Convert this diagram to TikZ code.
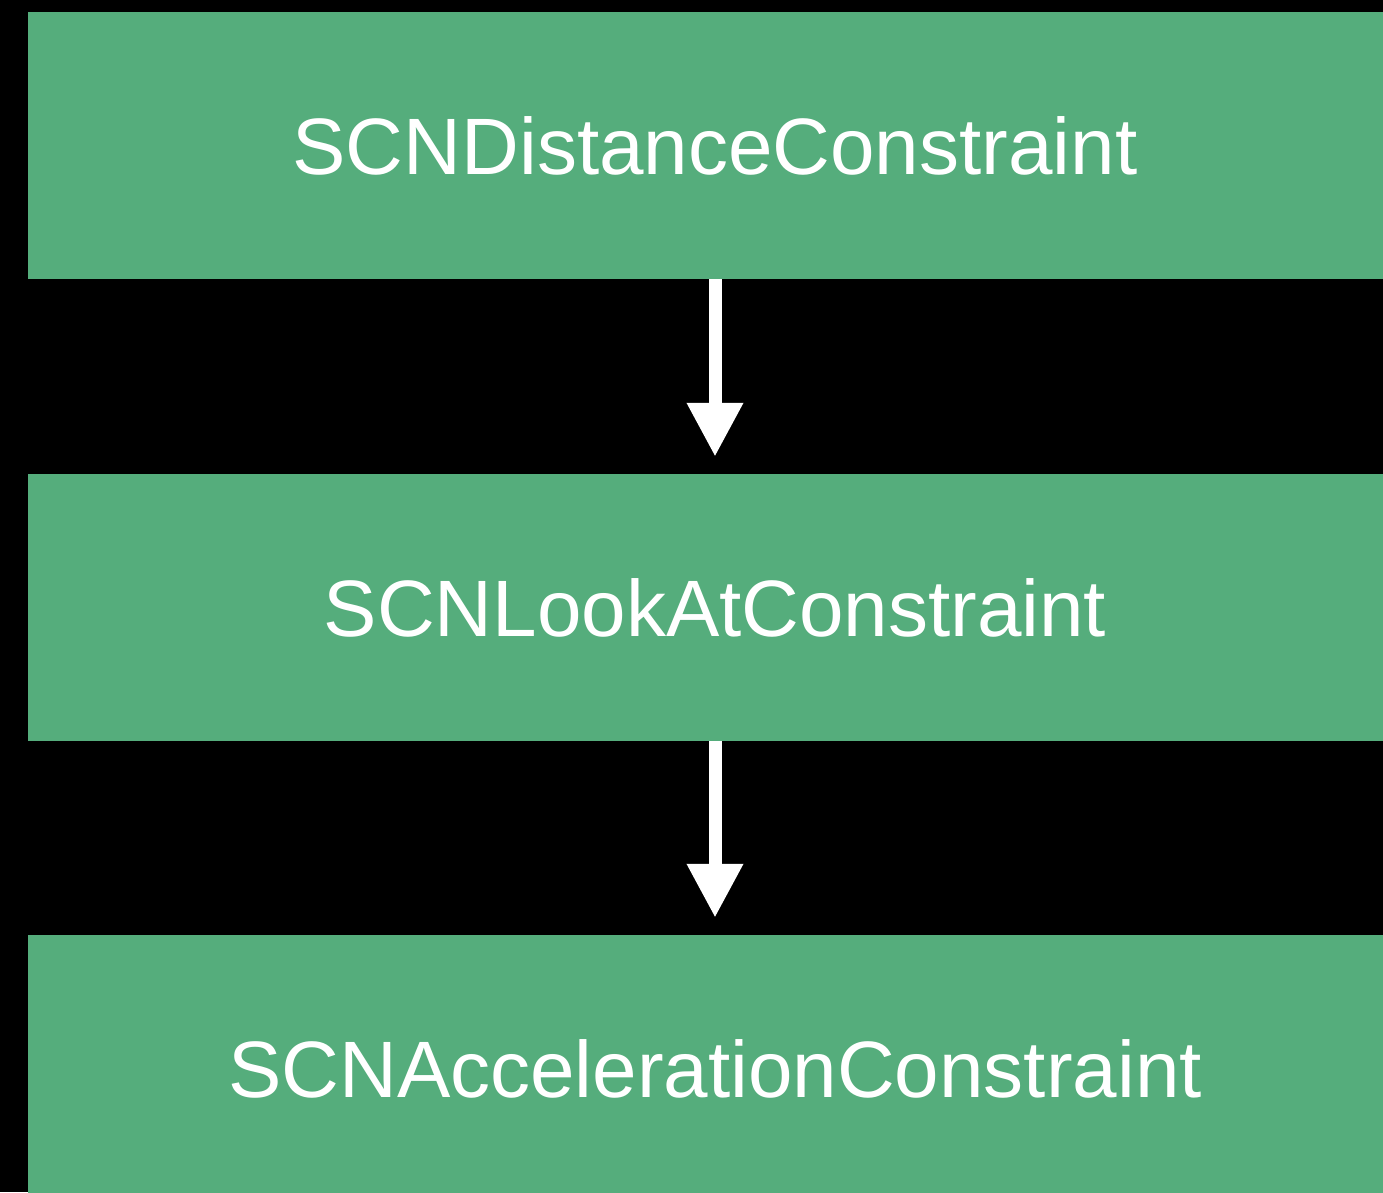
\documentclass[tikz,border=0pt]{standalone}
\usepackage{fontspec}
\setmainfont{Liberation Sans}
\usepackage{tikz}
\usetikzlibrary{arrows.meta}
\definecolor{black}{RGB}{0,0,0}
\definecolor{scn_green}{RGB}{85,173,124}

\begin{document}
\begin{tikzpicture}[x=1pt,y=1pt]
	\useasboundingbox (0,0) rectangle (1383,1192);
	\fill[black] (0,0) rectangle (1383,1192);
	\clip (0,0) rectangle (1383,1192);

	\node[rectangle,fill=scn_green,minimum width=1374pt,minimum height=267pt,inner sep=0pt,text=white,font=\fontsize{80}{96}\selectfont] (distance) at (715,1046.5) {SCNDistanceConstraint};
	\node[rectangle,fill=scn_green,minimum width=1374pt,minimum height=267pt,inner sep=0pt,text=white,font=\fontsize{80}{96}\selectfont] (lookat) at (715,584.5) {SCNLookAtConstraint};
	\node[rectangle,fill=scn_green,minimum width=1374pt,minimum height=267pt,inner sep=0pt,text=white,font=\fontsize{80}{96}\selectfont] (acceleration) at (715,123.5) {SCNAccelerationConstraint};

	\foreach \x/\y in {distance/lookat,lookat/acceleration}
		\draw[white,line width=13pt,-{Triangle[width=53pt,length=54pt]},shorten >=17pt] (\x) -- (\y);
\end{tikzpicture}
\end{document}
